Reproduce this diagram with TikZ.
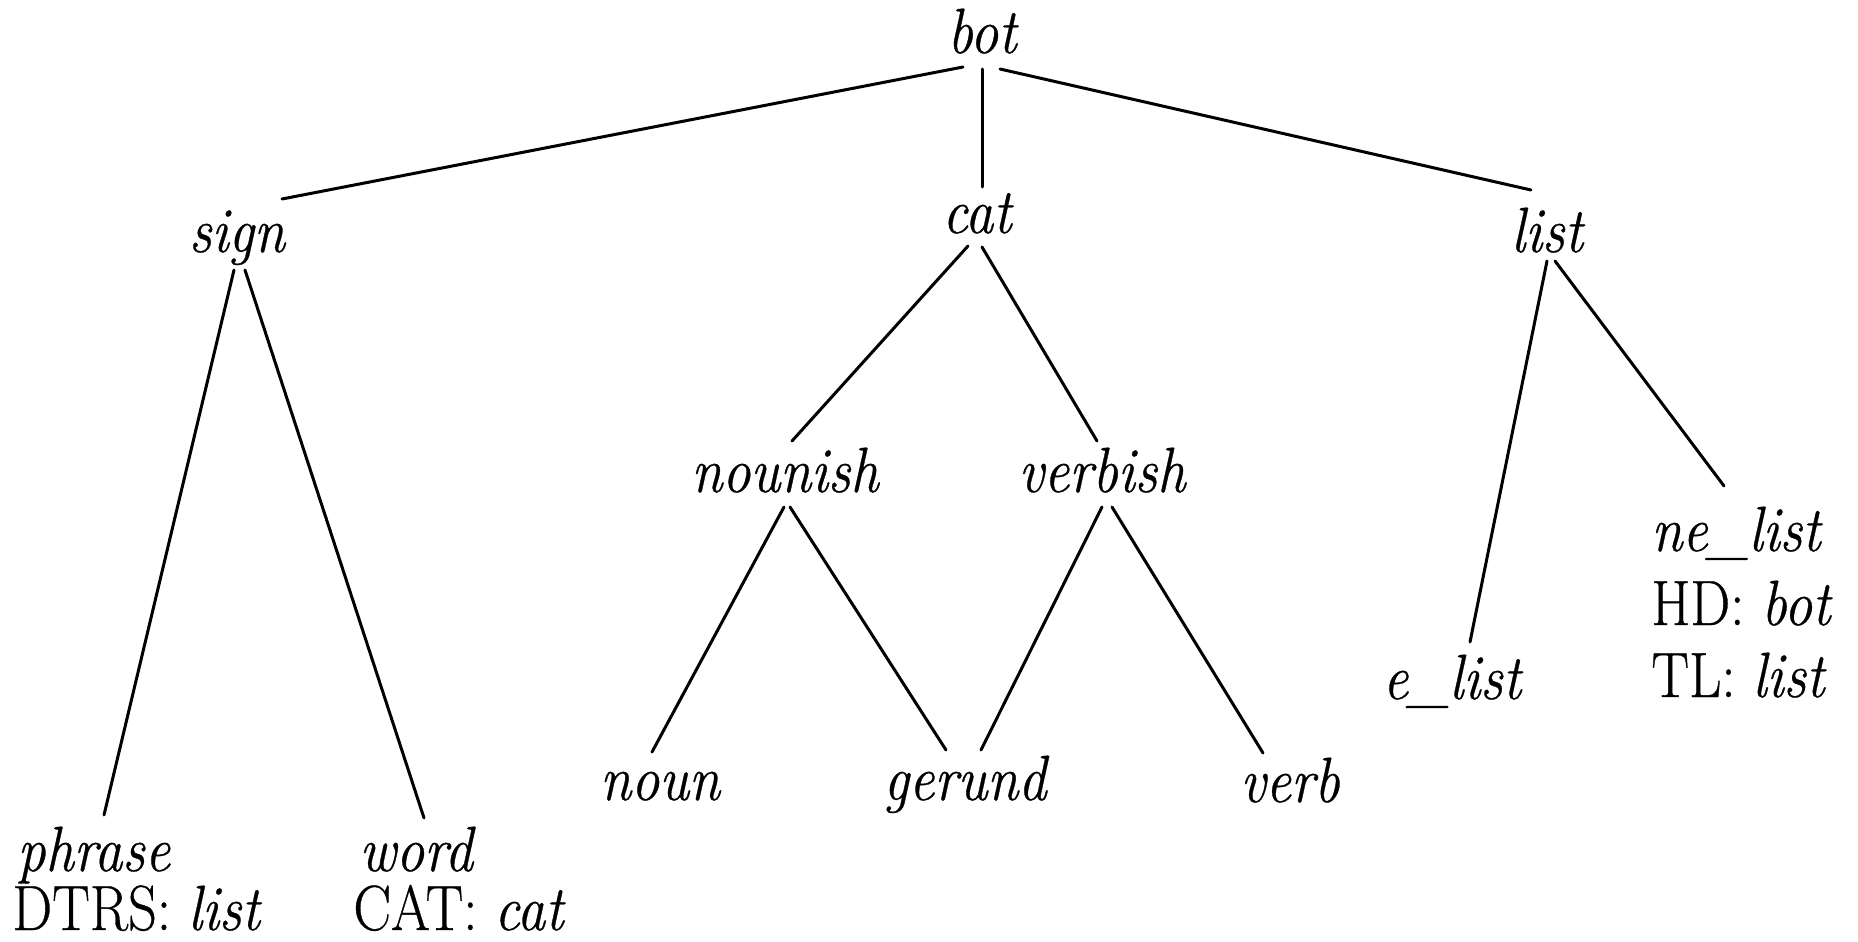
\documentclass[tikz,border=0pt]{standalone}
\usepackage{fontspec}
\setmainfont{Latin Modern Roman}[FakeStretch=0.88,FakeBold=0.5]
\usetikzlibrary{calc}
\begin{document}
\begin{tikzpicture}[x=0.5pt,y=-0.5pt,
  type/.style={inner sep=0pt, anchor=base, font=\rmfamily\fontsize{32}{38}\selectfont\itshape},
  typeleft/.style={type, anchor=base west},
  feat/.style={inner sep=0pt, anchor=base west, font=\rmfamily\fontsize{32}{38}\selectfont},
  edge/.style={line width=1.5pt, line cap=round}]
\useasboundingbox (0,0) rectangle (1858,942);

% type hierarchy
\node[type] (bot) at (982,53) {bot};
\node[type] (sign) at (237,252) {sign};
\node[type] (cat) at (977,233) {cat};
\node[type] (list) at (1547,252) {list};
\node[type] (nounish) at (785,492) {nounish};
\node[type] (verbish) at (1102,492) {verbish};
\node[type] (noun) at (660,800) {noun};
\node[type] (gerund) at (965,800) {gerund};
\node[type] (verb) at (1290,802) {verb};
\node[type] (elist) at (1452,699) {e\_list};
\node[typeleft] (nelist) at (1651,551) {ne\_list};
\node[feat] (nelisthd) at (1651,625) {HD: \textit{bot}};
\node[feat] (nelisttl) at (1651,697) {TL: \textit{list}};
\node[typeleft] (phrase) at (17,871) {phrase};
\node[feat] (phrasedtrs) at (12,930) {DTRS: \textit{list}};
\node[typeleft] (word) at (359,871) {word};
\node[feat] (wordcat) at (353,930) {CAT: \textit{cat}};

% subtype links
\draw[edge] ($(bot.base)+(-19,14)$) -- ($(sign.base)+(45,-53)$);
\draw[edge] ($(bot.base)+(0,16)$) -- ($(cat.base)+(5,-46)$);
\draw[edge] ($(bot.base)+(18,16)$) -- ($(list.base)+(-16,-62)$);
\draw[edge] ($(sign.base)+(-3,18)$) -- ($(phrase.base west)+(87,-56)$);
\draw[edge] ($(sign.base)+(8,18)$) -- ($(word.base west)+(65,-53)$);
\draw[edge] ($(cat.base)+(-9,13)$) -- ($(nounish.base)+(7,-51)$);
\draw[edge] ($(cat.base)+(5,14)$) -- ($(verbish.base)+(-5,-51)$);
\draw[edge] ($(nounish.base)+(-1,15)$) -- ($(noun.base)+(-8,-48)$);
\draw[edge] ($(nounish.base)+(5,15)$) -- ($(gerund.base)+(-19,-50)$);
\draw[edge] ($(verbish.base)+(0,15)$) -- ($(gerund.base)+(16,-50)$);
\draw[edge] ($(verbish.base)+(10,15)$) -- ($(verb.base)+(-27,-49)$);
\draw[edge] ($(list.base)+(0,9)$) -- ($(elist.base)+(18,-57)$);
\draw[edge] ($(list.base)+(8,9)$) -- ($(nelist.base west)+(73,-65)$);
\end{tikzpicture}
\end{document}
